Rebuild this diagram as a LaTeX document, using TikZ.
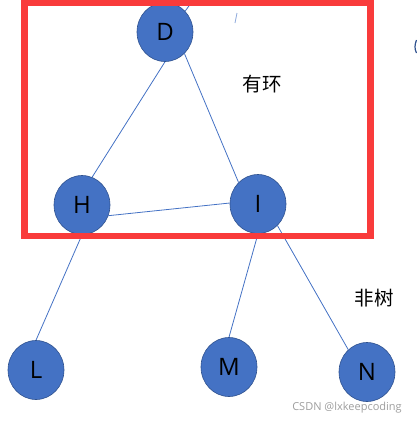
\documentclass[tikz,border=0pt]{standalone}
\usepackage{fontspec}
\setmainfont{Open Sans}
\newfontfamily\cjk{Noto Sans CJK SC}
\usetikzlibrary{shapes.geometric}
\definecolor{nodeblue}{HTML}{4472C4}
\definecolor{nodeedge}{HTML}{2F528F}
\definecolor{boxred}{HTML}{F93B3B}
\begin{document}
\begin{tikzpicture}[x=1pt,y=-1pt,
  vert/.style={ellipse,draw=nodeedge,line width=0.6pt,fill=nodeblue,minimum width=56pt,minimum height=59pt,inner sep=0pt,font=\fontsize{24}{24}\selectfont,text=black},
  link/.style={draw=nodeblue,line width=0.8pt},
  note/.style={font=\cjk\fontsize{19.5}{19.5}\selectfont,text=black},
  frame/.style={draw=boxred,line width=6.5pt}]
\useasboundingbox (0,0) rectangle (416,424);
\coordinate (top) at (194,-1);
\node[vert] (D) at (165,32) {D};
\node[vert] (H) at (82,205) {H};
\node[vert] (I) at (258,204) {I};
\node[vert] (L) at (36,370) {L};
\node[vert] (M) at (229,367) {M};
\node[vert] (N) at (367,372) {N};
\draw[link] (D.46) -- (top);
\draw[link] (D.south) -- (H.70);
\draw[link] (D.-48) -- (I.132);
\draw[link] (H.-22) -- (I.178);
\draw[link] (H.south) -- (L.north);
\draw[link] (I.south) -- (M.north);
\draw[link] (I.-48) -- (N.130);
\draw[nodeblue!60,line width=0.8pt] (235,23) -- (237,13);
\draw[nodeedge,line width=1.2pt] (416.5,40) .. controls (414.5,45) and (414.5,49) .. (416.5,53);
\node[note] (t1) at (262,84) {有环};
\node[note] (t2) at (374,298) {非树};
\draw[frame] (24.5,3) rectangle (370.5,236);
\node[font=\fontsize{11}{11}\selectfont,text=black!38] (wm) at (347,408) {CSDN @lxkeepcoding};
\end{tikzpicture}
\end{document}
